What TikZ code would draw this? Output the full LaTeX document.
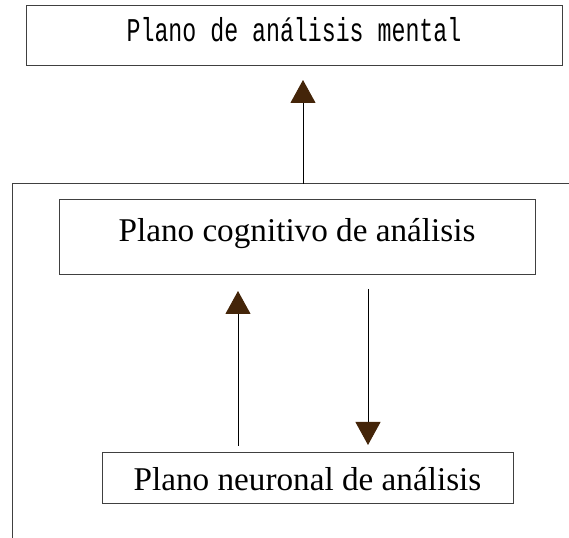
\documentclass[tikz,border=0pt]{standalone}
\usepackage{fontspec}
\setmainfont{Liberation Serif}
\newfontfamily\planomono{Liberation Mono}
\usetikzlibrary{arrows.meta}
\definecolor{headbrown}{HTML}{442509}

\begin{document}
\begin{tikzpicture}[x=0.75pt,y=-0.75pt,
    plano/.style={draw=black!75, line width=0.75pt, inner sep=0pt, anchor=north,
      font=\fontsize{24.9}{30}\selectfont},
    flecha/.style={draw=black, line width=0.75pt,
      -{Triangle[length=17.25pt,width=18.75pt,color=headbrown]}}]
	  \useasboundingbox (0,0) rectangle (569,538);

	  % marco abierto
	  \draw[black!75, line width=0.75pt] (12,545) -- (12,184) -- (575,184);
	  \coordinate (marco) at (303,184);

	  \node[plano, minimum width=402pt, text height=27pt, text depth=18pt,
	    font=\planomono\fontsize{24.9}{30}\selectfont] (mental) at (294,5)
	    {\scalebox{0.7}[1]{Plano de análisis mental}};
	  \node[plano, minimum width=357pt, text height=31.5pt, text depth=24.75pt]
	    (cognitivo) at (297,199) {Plano cognitivo de análisis};
	  \node[plano, minimum width=308.25pt, text height=28.5pt, text depth=9.75pt]
	    (neuronal) at (307.5,452) {Plano neuronal de análisis};

	  \draw[flecha, shorten >=10.5pt] (marco) -- (marco |- mental.south);
	  \draw[flecha, shorten <=4.5pt, shorten >=12pt] (neuronal.north -| 238,0) -- (cognitivo.south -| 238,0);
	  \draw[flecha, shorten <=10.5pt, shorten >=5.25pt] (cognitivo.south -| 368,0) -- (neuronal.north -| 368,0);
	\end{tikzpicture}
\end{document}
